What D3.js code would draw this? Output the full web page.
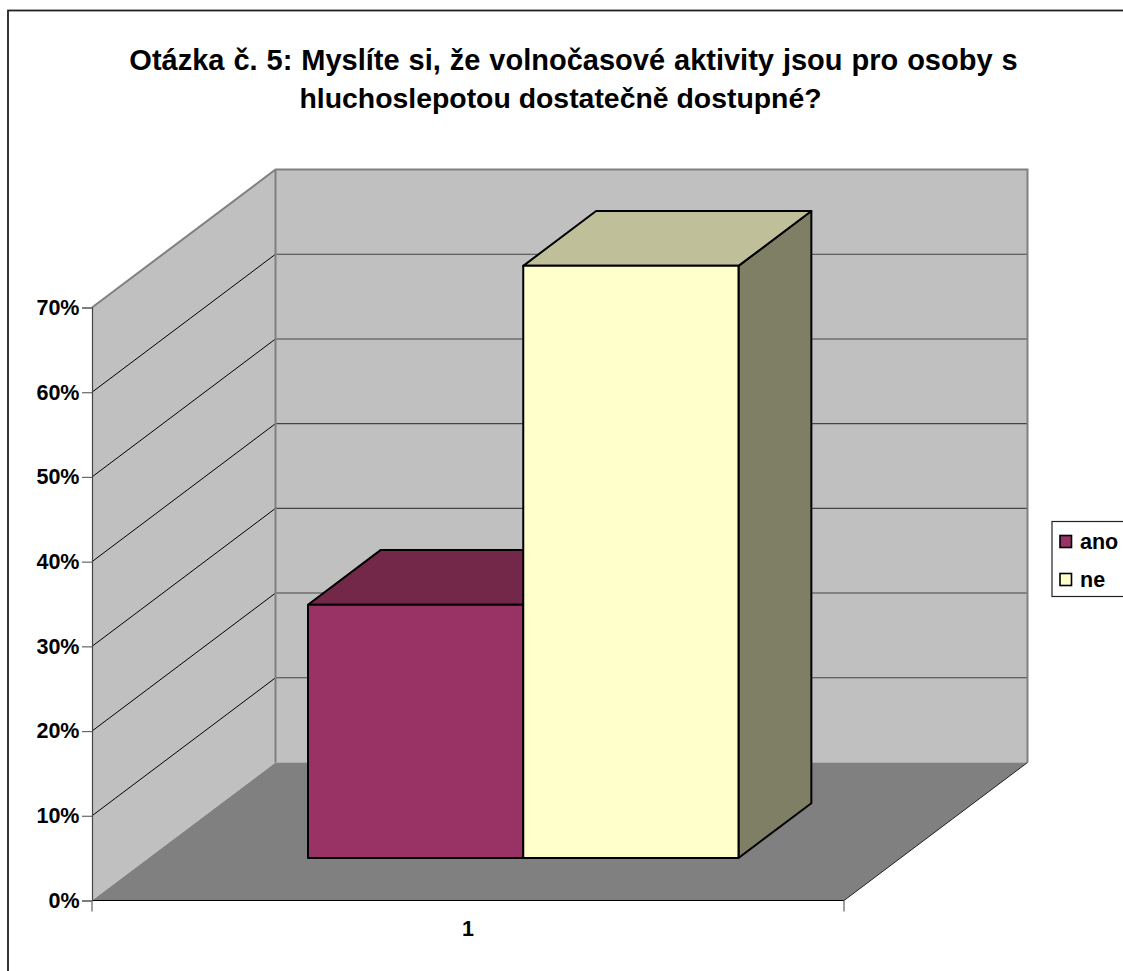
<!DOCTYPE html>
<html>
<head>
<meta charset="utf-8">
<script src="https://d3js.org/d3.v7.min.js"></script>
<style>
  html, body { margin: 0; padding: 0; background: #fff; overflow: hidden; }
  text { font-family: "Liberation Sans", Arial, sans-serif; font-weight: bold; fill: #000; }
</style>
</head>
<body>
<script>
const titleLines = ["Otázka č. 5: Myslíte si, že volnočasové aktivity jsou pro osoby s",
                    "hluchoslepotou dostatečně dostupné?"];
const categories = ["1"];
const seriesNames = ["ano", "ne"];
const seriesValues = [29.9, 69.9];
const seriesColors = ["#993366", "#ffffcc"];
const topColors = ["#732749", "#bfbf99"];
const sideColors = ["#732749", "#7f7f66"];
const yTicks = [0, 10, 20, 30, 40, 50, 60, 70];

const width = 1123, height = 971;

let svg = d3.select("body").append("svg")
    .attr("width", width)
    .attr("height", height)
    .style("display", "block");

// outer chart frame runs off the right and bottom of the picture
svg.append("rect")
    .attr("x", 8).attr("y", 10.5)
    .attr("width", 1300).attr("height", 1300)
    .attr("fill", "#fff")
    .attr("stroke", "#222")
    .attr("stroke-width", 1.8);

// first line has hinted wider glyphs in the original
[{size: 29, spacing: 0.9}, {size: 28.4, spacing: 0}].forEach((s, i) => {
    svg.append("text")
        .attr("x", i === 0 ? 573.5 : 560.5)
        .attr("y", 69.5 + i * 38.5)
        .attr("text-anchor", "middle")
        .style("font-size", s.size + "px")
        .style("word-spacing", s.spacing + "px")
        .text(titleLines[i]);
});

/////////////
/// Scales ///
/////////////

let y = d3.scaleLinear().domain([0, 70]).range([900.5, 307.5]);
let x = d3.scaleBand().domain(categories).range([92, 844]);

// depth: 0 = front of the floor, 1 = back wall
let dx = d3.scaleLinear().domain([0, 1]).range([0, 183.5]);
let dy = d3.scaleLinear().domain([0, 1]).range([0, -138]);

function pt(px, v, d) {
    return [px + dx(d), y(v) + dy(d)];
}
let poly = d3.line();

/////////////
/// Walls ///
/////////////

const plotL = x.range()[0], plotR = x.range()[1];

// side wall
svg.append("path")
    .attr("d", poly([pt(plotL, 0, 0), pt(plotL, 70, 0), pt(plotL, 70, 1), pt(plotL, 0, 1)]) + "Z")
    .attr("fill", "#c0c0c0");

// back wall
svg.append("path")
    .attr("d", poly([pt(plotL, 0, 1), pt(plotL, 70, 1), pt(plotR, 70, 1), pt(plotR, 0, 1)]) + "Z")
    .attr("fill", "#c0c0c0");

// floor
svg.append("path")
    .attr("d", poly([pt(plotL, 0, 0), pt(plotL, 0, 1), pt(plotR, 0, 1), pt(plotR, 0, 0)]) + "Z")
    .attr("fill", "#808080");

// gridlines
yTicks.filter(v => v > 0 && v < 70).forEach(v => {
    svg.append("path")
        .attr("d", poly([pt(plotL, v, 0), pt(plotL, v, 1)]))
        .attr("fill", "none").attr("stroke", "#000").attr("stroke-width", 1);
    svg.append("path")
        .attr("d", poly([pt(plotL, v, 1), pt(plotR, v, 1)]))
        .attr("fill", "none").attr("stroke", "#444").attr("stroke-width", 1.1);
});

// wall edges
svg.append("path")
    .attr("d", poly([pt(plotL, 70, 0), pt(plotL, 70, 1), pt(plotR, 70, 1), pt(plotR, 0, 1)]))
    .attr("fill", "none").attr("stroke", "#808080").attr("stroke-width", 2);
svg.append("path")
    .attr("d", poly([pt(plotL, 70, 1), pt(plotL, 0, 1)]))
    .attr("fill", "none").attr("stroke", "#808080").attr("stroke-width", 2);

// floor front and right edges
svg.append("path")
    .attr("d", poly([pt(plotL, 0, 0), pt(plotR, 0, 0)]))
    .attr("fill", "none").attr("stroke", "#000").attr("stroke-width", 1.2);
svg.append("path")
    .attr("d", poly([pt(plotR, 0, 0), pt(plotR, 0, 1)]))
    .attr("fill", "none").attr("stroke", "#222").attr("stroke-width", 1);

////////////
/// Bars ///
////////////

let barScale = d3.scaleBand()
    .domain(seriesNames)
    .range([308, 738.5]);
const d0 = 0.308, d1 = 0.705;

seriesNames.forEach((name, i) => {
    let l = barScale(name), r = l + barScale.bandwidth(), v = seriesValues[i];
    let base = y(0) + dy(d0), shift = dx(d1 - d0), lift = dy(d1 - d0);
    let top = base - (y(0) - y(v));
    let g = svg.append("g")
        .attr("stroke", "#000")
        .attr("stroke-width", 2)
        .attr("stroke-linejoin", "round");
    g.append("path")
        .attr("d", poly([[r, top], [r + shift, top + lift], [r + shift, base + lift], [r, base]]) + "Z")
        .attr("fill", sideColors[i]);
    g.append("path")
        .attr("d", poly([[l, top], [l + shift, top + lift], [r + shift, top + lift], [r, top]]) + "Z")
        .attr("fill", topColors[i]);
    g.append("path")
        .attr("d", poly([[l, top], [r, top], [r, base], [l, base]]) + "Z")
        .attr("fill", seriesColors[i]);
});

////////////
/// Axes ///
////////////

let yAxis = svg.append("g")
    .attr("transform", "translate(" + plotL + ",0)")
    .call(d3.axisLeft(y).tickValues(yTicks).tickSize(10).tickPadding(2.5).tickFormat(d => d + "%"));
yAxis.selectAll("path").attr("stroke", "#444").attr("stroke-width", 1.2);
yAxis.selectAll("line").attr("stroke", "#666").attr("stroke-width", 1.2);
yAxis.selectAll("text").style("font-size", "21.5px").attr("font-family", null);

let xAxis = svg.append("g")
    .attr("transform", "translate(0," + y(0) + ")")
    .call(d3.axisBottom(x).tickSize(0).tickPadding(20));
xAxis.select("path").remove();
xAxis.selectAll("text").style("font-size", "21.5px").attr("font-family", null);

[plotL, plotR].forEach(px => {
    svg.append("line")
        .attr("x1", px).attr("x2", px)
        .attr("y1", y(0)).attr("y2", y(0) + 11)
        .attr("stroke", "#777").attr("stroke-width", 1.4);
});

//////////////
/// Legend ///
//////////////

svg.append("rect")
    .attr("x", 1052).attr("y", 521.5)
    .attr("width", 120).attr("height", 75)
    .attr("fill", "#fff")
    .attr("stroke", "#222").attr("stroke-width", 1.2);

seriesNames.forEach((name, i) => {
    let rowY = 541.5 + i * 38;
    svg.append("rect")
        .attr("x", 1060).attr("y", rowY - 6)
        .attr("width", 11.5).attr("height", 12)
        .attr("fill", seriesColors[i])
        .attr("stroke", "#000").attr("stroke-width", 1.6);
    svg.append("text")
        .attr("x", 1080).attr("y", rowY + 7)
        .style("font-size", "21.5px")
        .text(name);
});
</script>
</body>
</html>
